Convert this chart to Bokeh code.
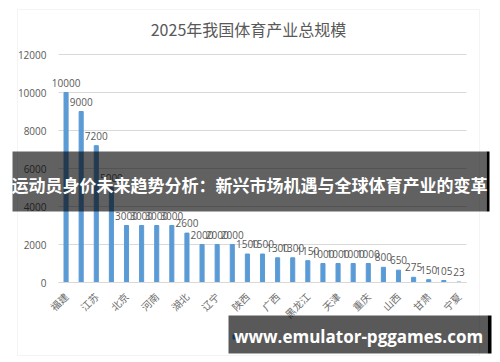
import math
from bokeh.plotting import figure
from bokeh.models import ColumnDataSource, Range1d, FixedTicker, BoxAnnotation, Label
from bokeh.core.properties import value
from bokeh.embed import file_html
from bokeh.resources import INLINE

# ---------------- data ----------------
chart_title = "2025年我国体育产业总规模"
tick_labels = ["福建", "江苏", "北京", "河南", "湖北", "辽宁", "陕西",
               "广西", "黑龙江", "天津", "重庆", "山西", "甘肃", "宁夏"]
values = [10000, 9000, 7200, 5000, 3000, 3000, 3000, 3000, 2600, 2000, 2000, 2000,
          1500, 1500, 1300, 1300, 1150, 1000, 1000, 1000, 1000, 800, 650, 275, 150, 105, 23]
y_ticks = [0, 2000, 4000, 6000, 8000, 10000, 12000]
banner_text = "运动员身价未来趋势分析：新兴市场机遇与全球体育产业的变革"
watermark_text = "www.emulator-pggames.com"

# ---------------- layout helpers ----------------
W, H = 500, 362
PL_L, PL_R, PL_T, PL_B = 58, 466, 54, 282   # plot-area edges in canvas pixels
N = len(values)
X0, X1 = -0.5, N - 0.5
Y0, Y1 = 0, 12000
PPX = (PL_R - PL_L) / (X1 - X0)
PPY = (PL_B - PL_T) / (Y1 - Y0)


def dx(px):
    return X0 + (px - PL_L) / PPX


def dy(py):
    return Y0 + (PL_B - py) / PPY


idx = list(range(N))
src = ColumnDataSource(dict(x=idx, top=values, lab=[str(v) for v in values]))

p = figure(width=W, height=H, x_range=Range1d(dx(0), dx(W)), y_range=Range1d(dy(H), dy(0)),
           output_backend="svg", toolbar_location=None,
           min_border_left=0, min_border_right=0, min_border_top=0, min_border_bottom=0)
p.outline_line_color = None
p.background_fill_color = "white"
p.border_fill_color = "white"

# chart border
p.add_layout(BoxAnnotation(left=dx(17), right=dx(479), top=dy(9), bottom=dy(355),
                           fill_alpha=0, line_color="#d9d9d9", line_width=1, level="underlay"))

p.vbar(x="x", top="top", width=0.27, source=src, color="#5B9BD5")
p.text(x="x", y="top", text="lab", source=src, text_align="center", text_baseline="alphabetic",
       y_offset=-10, text_font_size="10px", text_color="#595959", text_font=value("Open Sans"))

# axes (drawn inside the canvas at fixed data locations)
p.yaxis.fixed_location = dx(PL_L)
p.yaxis.ticker = FixedTicker(ticks=y_ticks)
p.yaxis.axis_line_color = None
p.yaxis.major_tick_line_color = None
p.yaxis.minor_tick_line_color = None
p.yaxis.major_label_text_font_size = "10px"
p.yaxis.major_label_text_color = "#595959"
p.yaxis.major_label_text_font = "Open Sans"
p.yaxis.major_label_standoff = 6

p.xaxis.fixed_location = 0
p.xaxis.bounds = (X0, X1)
p.xaxis.ticker = FixedTicker(ticks=list(range(0, N, 2)))
p.xaxis.major_label_overrides = {i * 2: t for i, t in enumerate(tick_labels)}
p.xaxis.major_label_orientation = math.pi / 4
p.xaxis.axis_line_color = "#d9d9d9"
p.xaxis.major_tick_line_color = None
p.xaxis.minor_tick_line_color = None
p.xaxis.major_label_text_font_size = "10px"
p.xaxis.major_label_text_color = "#6b6b6b"
p.xaxis.major_label_text_font = "Noto Sans CJK SC"
p.xaxis.major_label_standoff = 6

p.xgrid.grid_line_color = None
p.ygrid.grid_line_color = "#d9d9d9"
p.ygrid.ticker = FixedTicker(ticks=y_ticks)
p.ygrid.cross_bounds = (X0, X1)

# title
p.add_layout(Label(x=dx(248), y=dy(28), text=chart_title, text_align="center",
                   text_baseline="middle", text_font_size="16px", text_color="#595959",
                   text_font="Noto Sans CJK SC"))

# legend marker (mostly hidden under the watermark)
p.add_layout(BoxAnnotation(left=dx(232), right=dx(237), top=dy(334), bottom=dy(339),
                           fill_color="#5B9BD5", fill_alpha=1, line_color=None))

# banner overlay
p.add_layout(BoxAnnotation(left=dx(12), right=dx(486), top=dy(151), bottom=dy(211),
                           fill_color="black", fill_alpha=0.62, line_color=None, level="overlay"))
p.add_layout(BoxAnnotation(left=dx(486), right=dx(489), top=dy(151), bottom=dy(211),
                           fill_color="black", fill_alpha=1, line_color=None, level="overlay"))
p.add_layout(Label(x=dx(249), y=dy(184), text=banner_text, text_align="center",
                   text_baseline="middle", text_font_size="17px", text_color="white",
                   text_font_style="bold", text_font="Noto Sans CJK SC", level="overlay"))

# watermark overlay
p.add_layout(BoxAnnotation(left=dx(228), right=dx(487), top=dy(315), bottom=dy(353),
                           fill_color="black", fill_alpha=0.65, line_color=None, level="overlay"))
p.add_layout(BoxAnnotation(left=dx(487), right=dx(491), top=dy(315), bottom=dy(353),
                           fill_color="black", fill_alpha=1, line_color=None, level="overlay"))
p.add_layout(Label(x=dx(358), y=dy(336), text=watermark_text, text_align="center",
                   text_baseline="middle", text_font_size="17px", text_color="white",
                   text_font_style="bold", text_font="Open Sans", level="overlay"))

open("out.html", "w").write(file_html(p, INLINE))
